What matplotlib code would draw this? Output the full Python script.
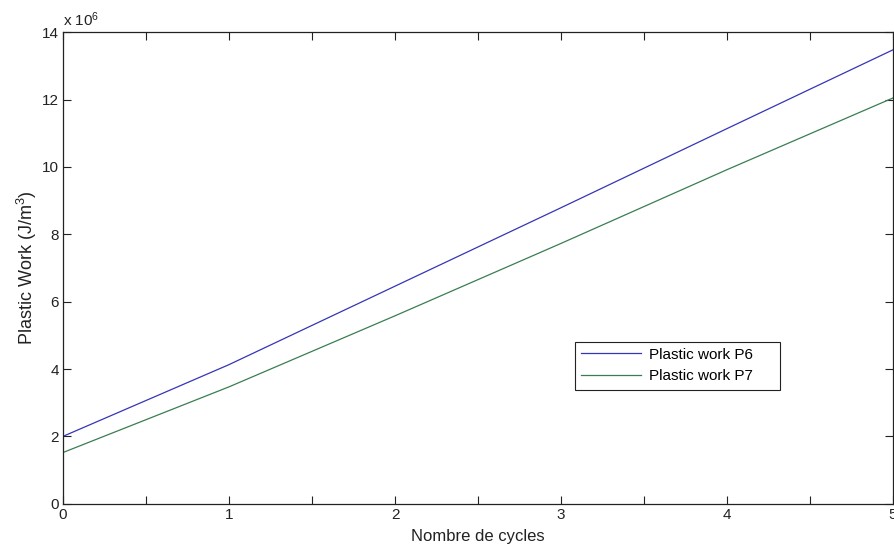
import matplotlib
matplotlib.use("Agg")
import matplotlib.pyplot as plt
from matplotlib.ticker import MultipleLocator, FuncFormatter

plt.rcParams['font.family'] = ['Liberation Sans', 'DejaVu Sans']
plt.rcParams['mathtext.fontset'] = 'custom'
plt.rcParams['mathtext.rm'] = 'Liberation Sans'
plt.rcParams['mathtext.it'] = 'Liberation Sans:italic'

cycles = [0, 1, 2, 3, 4, 5]
work_p6 = [2.00e6, 4.13e6, 6.46e6, 8.79e6, 11.14e6, 13.48e6]
work_p7 = [1.52e6, 3.47e6, 5.58e6, 7.73e6, 9.92e6, 12.05e6]
labels = ['Plastic work P6', 'Plastic work P7']

fig = plt.figure(figsize=(8.95, 5.49), dpi=100)
ax = fig.add_axes([63/895, (549-503.7)/549, (893-63)/895, (503.7-32.3)/549])

ax.plot(cycles, work_p6, color='#3535b8', lw=0.9, label=labels[0])
ax.plot(cycles, work_p7, color='#3a7d52', lw=0.9, label=labels[1])

ax.set_xlim(0, 5)
ax.set_ylim(0, 14e6)
ax.xaxis.set_major_locator(MultipleLocator(1))
ax.xaxis.set_minor_locator(MultipleLocator(0.5))
ax.yaxis.set_major_locator(MultipleLocator(2e6))
ax.yaxis.set_major_formatter(FuncFormatter(lambda v, p: f"{v/1e6:g}"))
ax.tick_params(which='both', direction='in', top=True, right=True, labelsize=11,
               colors='#222222', width=0.8)
ax.tick_params(which='major', length=6, pad=3)
ax.tick_params(which='minor', length=6)
for s in ax.spines.values():
    s.set_linewidth(0.9)
    s.set_color('#222222')

ax.text(0, 1.006, r'x 10$\mathregular{^6}$', transform=ax.transAxes,
        ha='left', va='bottom', fontsize=11, color='#222222')

ax.set_xlabel('Nombre de cycles', fontsize=12, color='#222222', labelpad=5)
ax.set_ylabel(r'Plastic Work (J/m$\mathregular{^3}$)', fontsize=13, color='#222222', labelpad=2)

x0 = (575 - 63) / 830
w = (780 - 575) / 830
ytop = (503.7 - 341.7) / 471.4
h = (390 - 341.7) / 471.4
leg = ax.legend(loc='upper left', bbox_to_anchor=(x0, ytop - h, w, h), mode='expand',
                fontsize=11, frameon=True, fancybox=False, framealpha=1,
                edgecolor='#222222', handlelength=3.9, handletextpad=0.55,
                borderpad=0.4, labelspacing=0.5, borderaxespad=0)
leg.get_frame().set_linewidth(0.8)

fig.savefig('out.png', dpi=100)
